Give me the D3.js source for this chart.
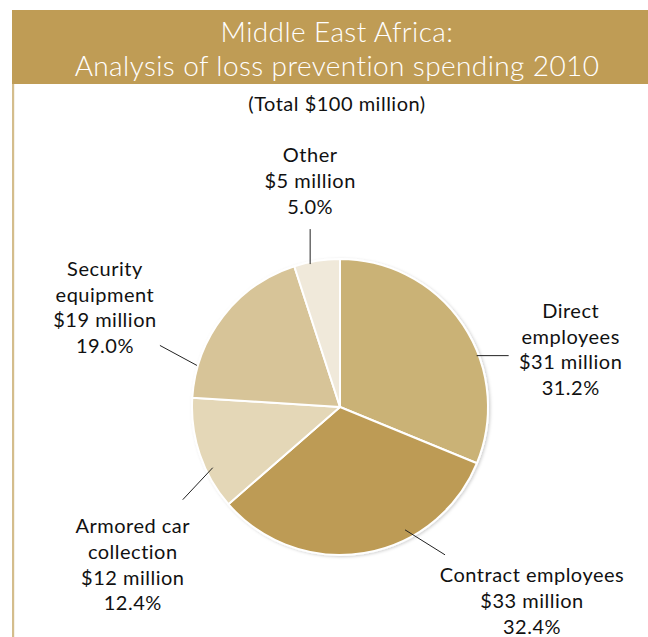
<!DOCTYPE html>
<html>
<head>
<meta charset="utf-8">
<script src="https://cdn.jsdelivr.net/npm/d3@7"></script>
<style>
  html, body { margin: 0; padding: 0; background: #fff; }
  svg { display: block; }
  text { font-family: Lato, "Open Sans", sans-serif; }
</style>
</head>
<body>
<svg id="chart" width="648" height="637"></svg>
<script>
// Loss prevention spending, Middle East Africa, 2010 (total $100 million)
const categories = ["Direct employees", "Contract employees", "Armored car collection", "Security equipment", "Other"];
const millions   = [31, 33, 12, 19, 5];
const percents   = [31.2, 32.4, 12.4, 19.0, 5.0];
const labelLines = [
  ["Direct", "employees", "$31 million", "31.2%"],
  ["Contract employees", "$33 million", "32.4%"],
  ["Armored car", "collection", "$12 million", "12.4%"],
  ["Security", "equipment", "$19 million", "19.0%"],
  ["Other", "$5 million", "5.0%"]
];
const sliceColors = ["#cab276", "#bd9b54", "#e4d7b7", "#d7c498", "#f0e9da"];

const titleLines = ["Middle East Africa:", "Analysis of loss prevention spending 2010"];
const subtitle = "(Total $100 million)";

const W = 648, H = 637;
const svg = d3.select("#chart");

// frame: gold header band and thin rule down the left side
svg.append("rect").attr("x", 12).attr("y", 10).attr("width", W - 12).attr("height", 74).attr("fill", "#bf9c55");
svg.append("rect").attr("x", 12).attr("y", 84).attr("width", 2.2).attr("height", H - 84).attr("fill", "#d4bd8c");

svg.selectAll("text.title").data(titleLines).join("text")
  .attr("class", "title")
  .attr("x", 337).attr("y", (d, i) => 42 + i * 34)
  .attr("text-anchor", "middle")
  .attr("fill", "#fff")
  .attr("font-size", 28)
  .attr("font-weight", 300)
  .attr("letter-spacing", 0.4)
  .text(d => d);

svg.append("text")
  .attr("x", 337).attr("y", 111)
  .attr("text-anchor", "middle")
  .attr("fill", "#111")
  .attr("font-size", 20)
  .attr("letter-spacing", 0.5)
  .text(subtitle);

// pie
const cx = 340, cy = 407, R = 148;
const pie = d3.pie().sort(null).value(d => d)(percents);
const arc = d3.arc().innerRadius(0).outerRadius(R);

const defs = svg.append("defs");
const f = defs.append("filter").attr("id", "soft").attr("x", "-10%").attr("y", "-10%").attr("width", "120%").attr("height", "120%");
f.append("feDropShadow").attr("dx", 1.5).attr("dy", 1).attr("stdDeviation", 1.5).attr("flood-color", "#000").attr("flood-opacity", 0.18);

const g = svg.append("g").attr("transform", `translate(${cx},${cy})`);
g.append("g").attr("filter", "url(#soft)")
  .selectAll("path").data(pie).join("path")
  .attr("d", arc)
  .attr("fill", (d, i) => sliceColors[i])
  .attr("stroke", "#fff")
  .attr("stroke-width", 2)
  .attr("stroke-linejoin", "round");

// leader lines: anchor angle (deg, clockwise from 12 o'clock), anchor radius,
// line vector, and the label block's centre relative to the line end
const leaders = [
  { ang: 69.4,  r: 146, dx: 32,  dy: 0,   tx: 62,  ty: -6 },
  { ang: 152.1, r: 139, dx: 40,  dy: 25,  tx: 87,  ty: 46 },
  { ang: 244.5, r: 141, dx: -30, dy: 32,  tx: -50, ty: 65 },
  { ang: 286.2, r: 149, dx: -37, dy: -20, tx: -55, ty: -38 },
  { ang: 348.2, r: 146, dx: 0,   dy: -35, tx: 0,   ty: -48 }
];
const lineGap = 25.7;

pie.forEach((d, i) => {
  const L = leaders[i];
  const a = L.ang * Math.PI / 180;
  const x0 = Math.sin(a) * L.r, y0 = -Math.cos(a) * L.r;
  const x1 = x0 + L.dx, y1 = y0 + L.dy;
  g.append("line")
    .attr("x1", x0).attr("y1", y0).attr("x2", x1).attr("y2", y1)
    .attr("stroke", "#222").attr("stroke-width", 1);
  const lines = labelLines[i];
  g.append("text")
    .attr("text-anchor", "middle")
    .attr("fill", "#111")
    .attr("font-size", 20)
    .attr("letter-spacing", 0.5)
    .selectAll("tspan").data(lines).join("tspan")
    .attr("x", x1 + L.tx)
    .attr("y", (t, j) => y1 + L.ty + j * lineGap - (lines.length - 1) * lineGap / 2 + 7)
    .text(t => t);
});
</script>
</body>
</html>
